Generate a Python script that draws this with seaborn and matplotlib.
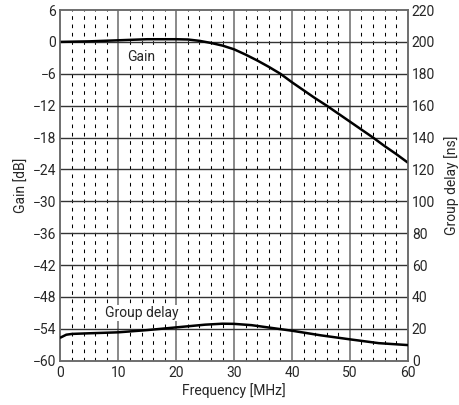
import matplotlib
matplotlib.use("Agg")
import matplotlib.pyplot as plt
import seaborn as sns
import pandas as pd
import numpy as np

# values
gain_freq = [0, 5, 10, 15, 20, 22, 24, 26, 28, 30, 32, 34, 36, 38, 40, 42, 44, 46, 48, 50, 52, 54, 56, 58, 60]
gain_db = [0.0, 0.1, 0.3, 0.5, 0.5, 0.45, 0.2, -0.2, -0.7, -1.4, -2.4, -3.5, -4.7, -6.0, -7.6, -9.1,
           -10.6, -12.0, -13.5, -15.0, -16.5, -18.0, -19.6, -21.1, -22.7]
delay_freq = [0, 1, 2, 5, 10, 15, 20, 25, 28, 30, 33, 36, 40, 45, 50, 55, 60]
delay_ns = [14.5, 16.3, 16.8, 17.2, 17.8, 19.2, 20.9, 22.6, 23.2, 23.1, 22.3, 20.8, 18.8, 15.9, 13.4, 11.0, 9.8]

gain_ticks = list(range(-60, 7, 6))
delay_ticks = list(range(0, 221, 20))

sns.set_style("white")
plt.rcParams['font.family'] = ['Roboto', 'DejaVu Sans']
plt.rcParams['font.size'] = 10

gain = pd.DataFrame({"f": gain_freq, "g": gain_db})
delay = pd.DataFrame({"f": delay_freq, "d": delay_ns})

fig = plt.figure(figsize=(4.6, 4.05), dpi=100)
ax = fig.add_axes([0.1315, 0.1094, 0.7548, 0.8659])
ax2 = ax.twinx()

# grid
for x in range(2, 60, 2):
    if x % 10 == 0:
        ax.axvline(x, color="#6a6a6a", lw=1.1, zorder=1)
    else:
        ax.axvline(x, color="black", lw=0.75, ls=(0, (3.5, 4.5)), zorder=1)
for y in gain_ticks[1:-1]:
    ax.axhline(y, color="#333333", lw=1.0, zorder=1)

sns.lineplot(data=gain, x="f", y="g", ax=ax, color="black", lw=1.8, zorder=3)
sns.lineplot(data=delay, x="f", y="d", ax=ax2, color="black", lw=1.8, zorder=3)

ax.set_xlim(0, 60)
ax.set_ylim(-60, 6)
ax.set_xticks(range(0, 61, 10))
ax.set_yticks(gain_ticks)
ax2.set_ylim(0, 220)
ax2.set_yticks(delay_ticks)

ax.set_xlabel("Frequency [MHz]")
ax.set_ylabel("Gain [dB]")
ax2.set_ylabel("Group delay [ns]")
ax.xaxis.labelpad = 2
ax.yaxis.labelpad = 3
ax2.yaxis.labelpad = 6

ax.tick_params(axis="x", length=0, pad=4)
ax.tick_params(axis="y", length=0, pad=3)
ax2.tick_params(length=0, pad=3)
for a in (ax, ax2):
    for s in a.spines.values():
        s.set_color("#6a6a6a")
        s.set_linewidth(1.1)

ax.text(14, -2.8, "Gain", ha="center", va="center",
        bbox=dict(facecolor="white", edgecolor="none", pad=0.5), zorder=4)
ax.text(14, -51, "Group delay", ha="center", va="center",
        bbox=dict(facecolor="white", edgecolor="none", pad=0.5), zorder=4)

fig.savefig("out.png", dpi=100)
